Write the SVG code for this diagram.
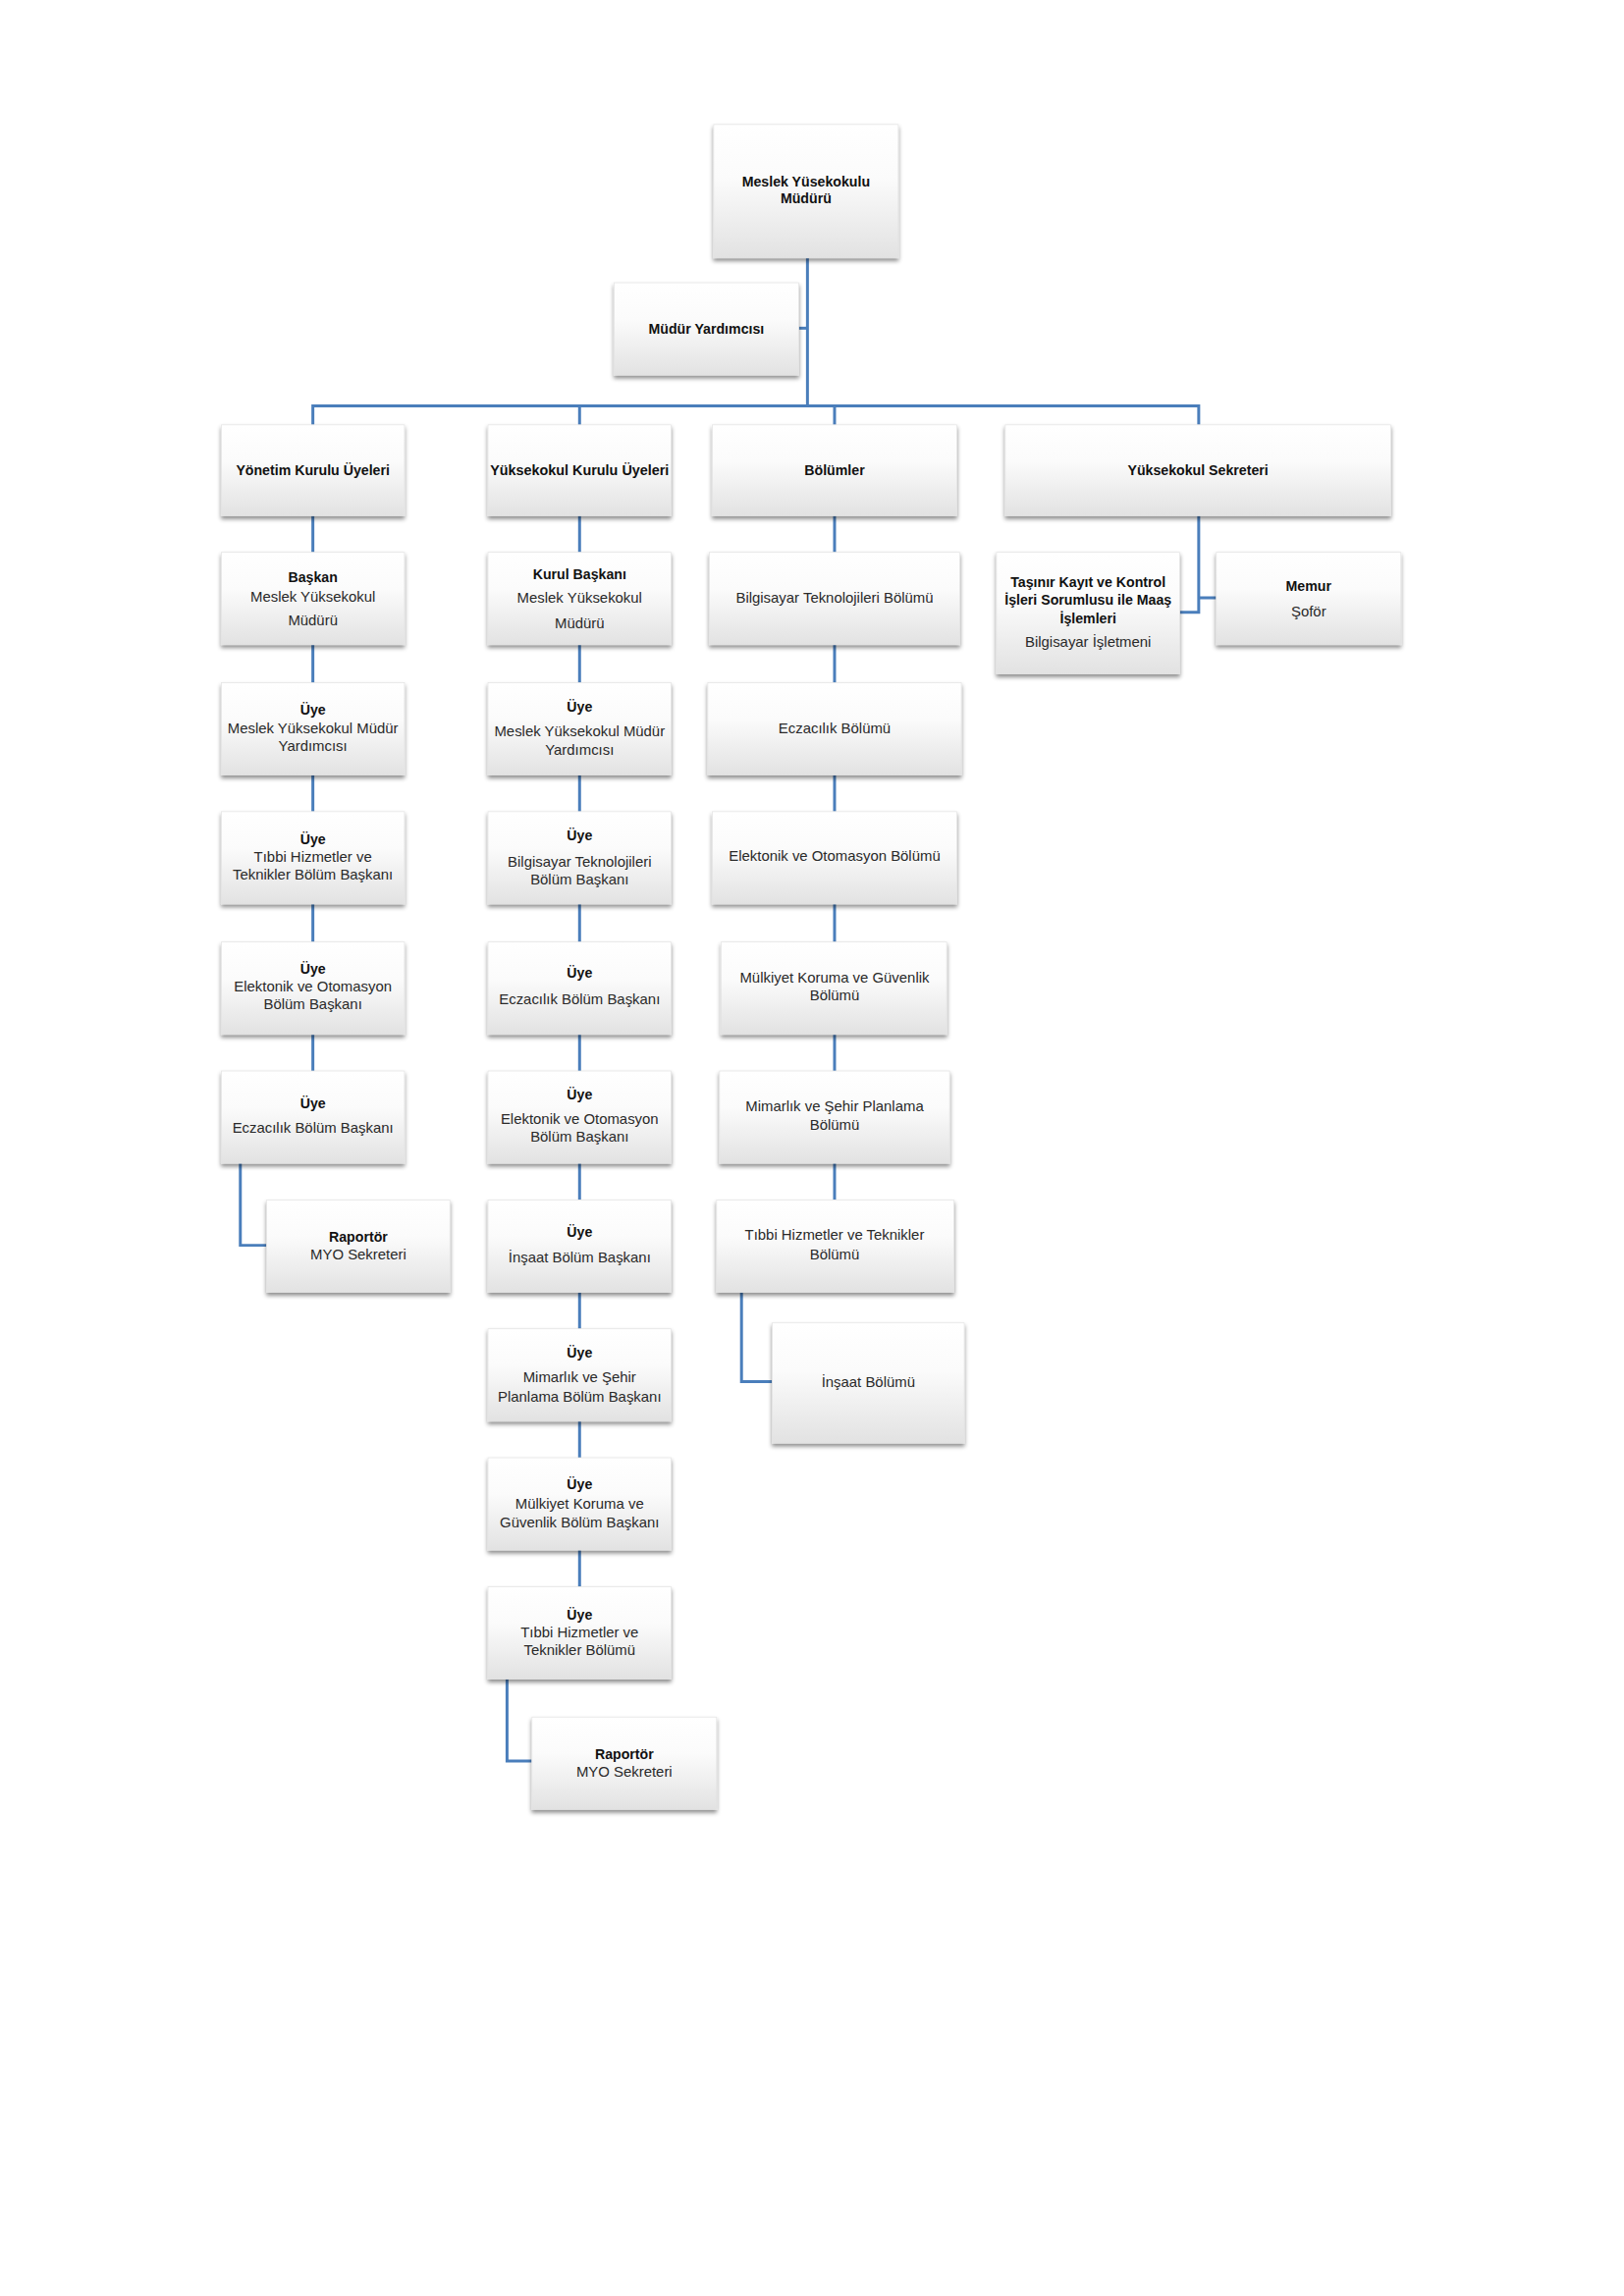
<svg xmlns="http://www.w3.org/2000/svg" width="1654" height="2339" viewBox="0 0 1654 2339">
<defs>
<linearGradient id="g" x1="0" y1="0" x2="0" y2="1">
<stop offset="0" stop-color="#ffffff"/>
<stop offset="0.4" stop-color="#fbfbfb"/>
<stop offset="1" stop-color="#e2e2e2"/>
</linearGradient>
<filter id="sh" x="-10%" y="-10%" width="120%" height="130%">
<feDropShadow dx="0" dy="2" stdDeviation="1.3" flood-color="#000" flood-opacity="0.45"/>
</filter>
</defs>
<style>
.b{fill:url(#g);stroke:#e4e4e4;stroke-width:0.5;filter:url(#sh)}
.c{fill:none;stroke:#4a7ebb;stroke-width:2}
text{font-family:"Liberation Sans",Arial,sans-serif;text-anchor:middle}
.t{font-weight:bold;font-size:9.5px;fill:#111}
.r{font-size:10px;fill:#2a2a2a}
</style>
<rect width="1654" height="2339" fill="#ffffff"/>
<g transform="scale(1.4925)">
<g id="connectors">
<path class="c" d="M551 176V277"/>
<path class="c" d="M545 224H551"/>
<path class="c" d="M213.5 290V277H818V290"/>
<path class="c" d="M395.5 277V290"/>
<path class="c" d="M569.5 277V290"/>
<path class="c" d="M213.5 352V377M213.5 440V466M213.5 529V554M213.5 617V643M213.5 706V731"/>
<path class="c" d="M164 794V850H182"/>
<path class="c" d="M395.5 352V377M395.5 440V466M395.5 529V554M395.5 617V643M395.5 706V731M395.5 794V819M395.5 882V907M395.5 970V995M395.5 1058V1083"/>
<path class="c" d="M346 1146V1202H363"/>
<path class="c" d="M569.5 352V377M569.5 440V466M569.5 529V554M569.5 617V643M569.5 706V731M569.5 794V819"/>
<path class="c" d="M506 882V943H527"/>
<path class="c" d="M818 352V418H805M818 408H830"/>
</g>
<g id="n-mudur"><rect class="b" x="487" y="85" width="126" height="91"/><text class="t" x="550" y="127">Meslek Yüsekokulu</text><text class="t" x="550" y="139">Müdürü</text></g>
<g id="n-yardimci"><rect class="b" x="419" y="193" width="126" height="63"/><text class="t" x="482" y="227.5">Müdür Yardımcısı</text></g>
<g id="n-yonetim"><rect class="b" x="151" y="290" width="125" height="62"/><text class="t" x="213.5" y="324.5">Yönetim Kurulu Üyeleri</text></g>
<g id="n-yuksekokul-kurulu"><rect class="b" x="333" y="290" width="125" height="62"/><text class="t" x="395.5" y="324.5" textLength="122" lengthAdjust="spacingAndGlyphs">Yüksekokul Kurulu Üyeleri</text></g>
<g id="n-bolumler"><rect class="b" x="486" y="290" width="167" height="62"/><text class="t" x="569.5" y="324.5">Bölümler</text></g>
<g id="n-sekreter"><rect class="b" x="686" y="290" width="263" height="62"/><text class="t" x="817.5" y="324.5">Yüksekokul Sekreteri</text></g>

<g id="n-y1"><rect class="b" x="151" y="377" width="125" height="63"/><text class="t" x="213.5" y="397.5">Başkan</text><text class="r" x="213.5" y="410.5">Meslek Yüksekokul</text><text class="r" x="213.5" y="426.5">Müdürü</text></g>
<g id="n-y2"><rect class="b" x="151" y="466" width="125" height="63"/><text class="t" x="213.5" y="487.5">Üye</text><text class="r" x="213.5" y="500.5">Meslek Yüksekokul Müdür</text><text class="r" x="213.5" y="512.5">Yardımcısı</text></g>
<g id="n-y3"><rect class="b" x="151" y="554" width="125" height="63"/><text class="t" x="213.5" y="576.5">Üye</text><text class="r" x="213.5" y="588.5">Tıbbi Hizmetler ve</text><text class="r" x="213.5" y="600.5">Teknikler Bölüm Başkanı</text></g>
<g id="n-y4"><rect class="b" x="151" y="643" width="125" height="63"/><text class="t" x="213.5" y="664.5">Üye</text><text class="r" x="213.5" y="676.5">Elektonik ve Otomasyon</text><text class="r" x="213.5" y="688.5">Bölüm Başkanı</text></g>
<g id="n-y5"><rect class="b" x="151" y="731" width="125" height="63"/><text class="t" x="213.5" y="756.5">Üye</text><text class="r" x="213.5" y="773.5">Eczacılık Bölüm Başkanı</text></g>
<g id="n-y6"><rect class="b" x="182" y="819" width="125" height="63"/><text class="t" x="244.5" y="847.5">Raportör</text><text class="r" x="244.5" y="859.5">MYO Sekreteri</text></g>

<g id="n-k1"><rect class="b" x="333" y="377" width="125" height="63"/><text class="t" x="395.5" y="395.5">Kurul Başkanı</text><text class="r" x="395.5" y="411.5">Meslek Yüksekokul</text><text class="r" x="395.5" y="428.5">Müdürü</text></g>
<g id="n-k2"><rect class="b" x="333" y="466" width="125" height="63"/><text class="t" x="395.5" y="485.5">Üye</text><text class="r" x="395.5" y="502.5">Meslek Yüksekokul Müdür</text><text class="r" x="395.5" y="515.5">Yardımcısı</text></g>
<g id="n-k3"><rect class="b" x="333" y="554" width="125" height="63"/><text class="t" x="395.5" y="573.5">Üye</text><text class="r" x="395.5" y="591.5">Bilgisayar Teknolojileri</text><text class="r" x="395.5" y="603.5">Bölüm Başkanı</text></g>
<g id="n-k4"><rect class="b" x="333" y="643" width="125" height="63"/><text class="t" x="395.5" y="667.5">Üye</text><text class="r" x="395.5" y="685.5">Eczacılık Bölüm Başkanı</text></g>
<g id="n-k5"><rect class="b" x="333" y="731" width="125" height="63"/><text class="t" x="395.5" y="750.5">Üye</text><text class="r" x="395.5" y="767.5">Elektonik ve Otomasyon</text><text class="r" x="395.5" y="779.5">Bölüm Başkanı</text></g>
<g id="n-k6"><rect class="b" x="333" y="819" width="125" height="63"/><text class="t" x="395.5" y="844.5">Üye</text><text class="r" x="395.5" y="861.5">İnşaat Bölüm Başkanı</text></g>
<g id="n-k7"><rect class="b" x="333" y="907" width="125" height="63"/><text class="t" x="395.5" y="926.5">Üye</text><text class="r" x="395.5" y="943.5">Mimarlık ve Şehir</text><text class="r" x="395.5" y="956.5">Planlama Bölüm Başkanı</text></g>
<g id="n-k8"><rect class="b" x="333" y="995" width="125" height="63"/><text class="t" x="395.5" y="1016.5">Üye</text><text class="r" x="395.5" y="1029.5">Mülkiyet Koruma ve</text><text class="r" x="395.5" y="1042.5">Güvenlik Bölüm Başkanı</text></g>
<g id="n-k9"><rect class="b" x="333" y="1083" width="125" height="63"/><text class="t" x="395.5" y="1105.5">Üye</text><text class="r" x="395.5" y="1117.5">Tıbbi Hizmetler ve</text><text class="r" x="395.5" y="1129.5">Teknikler Bölümü</text></g>
<g id="n-k10"><rect class="b" x="363" y="1172" width="126" height="63"/><text class="t" x="426" y="1200.5">Raportör</text><text class="r" x="426" y="1212.5">MYO Sekreteri</text></g>

<g id="n-b1"><rect class="b" x="484" y="377" width="171" height="63"/><text class="r" x="569.5" y="411.5">Bilgisayar Teknolojileri Bölümü</text></g>
<g id="n-b2"><rect class="b" x="483" y="466" width="173" height="63"/><text class="r" x="569.5" y="500.5">Eczacılık Bölümü</text></g>
<g id="n-b3"><rect class="b" x="486" y="554" width="167" height="63"/><text class="r" x="569.5" y="587.5">Elektonik ve Otomasyon Bölümü</text></g>
<g id="n-b4"><rect class="b" x="492" y="643" width="154" height="63"/><text class="r" x="569.5" y="670.5">Mülkiyet Koruma ve Güvenlik</text><text class="r" x="569.5" y="682.5">Bölümü</text></g>
<g id="n-b5"><rect class="b" x="491" y="731" width="157" height="63"/><text class="r" x="569.5" y="758.5">Mimarlık ve Şehir Planlama</text><text class="r" x="569.5" y="771.5">Bölümü</text></g>
<g id="n-b6"><rect class="b" x="489" y="819" width="162" height="63"/><text class="r" x="569.5" y="846.5">Tıbbi Hizmetler ve Teknikler</text><text class="r" x="569.5" y="859.5">Bölümü</text></g>
<g id="n-b7"><rect class="b" x="527" y="903" width="131" height="82"/><text class="r" x="592.5" y="946.5">İnşaat Bölümü</text></g>

<g id="n-tasinir"><rect class="b" x="680" y="377" width="125" height="83"/><text class="t" x="742.5" y="400.5">Taşınır Kayıt ve Kontrol</text><text class="t" x="742.5" y="413">İşleri Sorumlusu ile Maaş</text><text class="t" x="742.5" y="425.5">İşlemleri</text><text class="r" x="742.5" y="441.5">Bilgisayar İşletmeni</text></g>
<g id="n-memur"><rect class="b" x="830" y="377" width="126" height="63"/><text class="t" x="893" y="403.5">Memur</text><text class="r" x="893" y="420.5">Şoför</text></g>
</g>
</svg>
